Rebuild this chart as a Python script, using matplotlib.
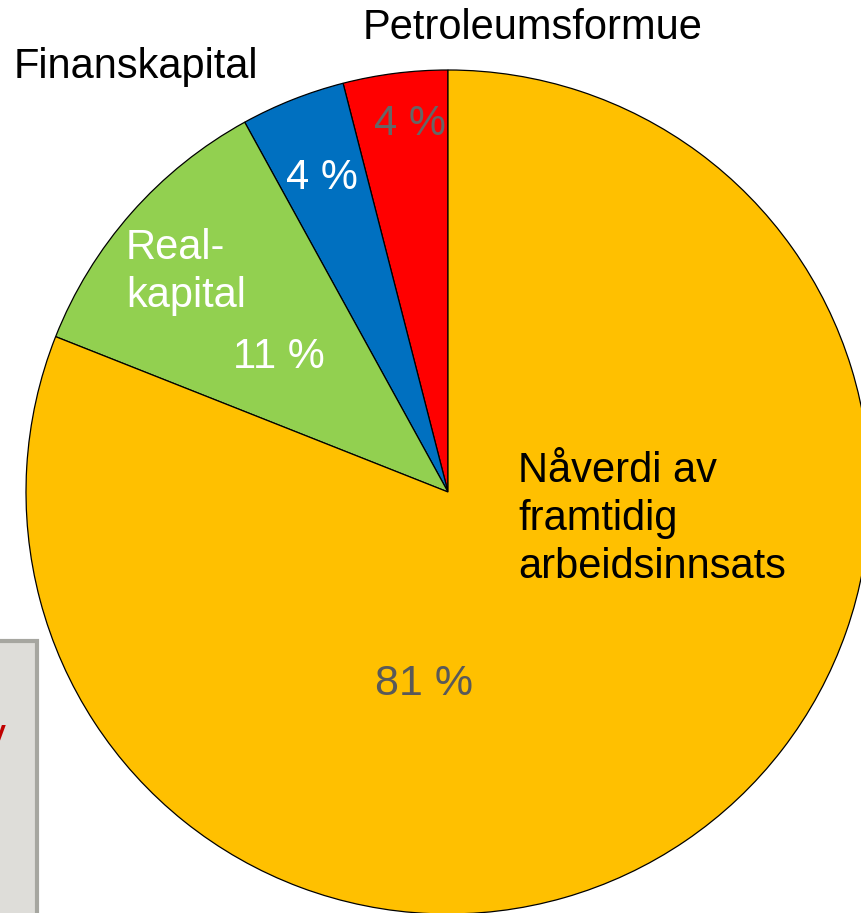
import matplotlib
matplotlib.use('Agg')
import matplotlib.pyplot as plt
from matplotlib.patches import Rectangle

# Andeler av nasjonalformuen (prosent)
kategorier = ["Petroleumsformue", "Finanskapital", "Realkapital", "Nåverdi av framtidig arbeidsinnsats"]
andeler = [4, 4, 11, 81]
farger = ["#FF0000", "#0070C0", "#92D050", "#FFC000"]
etiketter = ["4 %", "4 %", "11 %", "81 %"]

plt.rcParams['font.family'] = ['Liberation Sans', 'DejaVu Sans']

W, H = 861, 913
fig = plt.figure(figsize=(W / 100, H / 100), dpi=100)
ax = fig.add_axes([0, 0, 1, 1])

# Pai-diagram, sentrum og radius i piksler (y målt nedenfra)
cx, cy, r = 448, H - 492, 422
wedges, _ = ax.pie(andeler, colors=farger, startangle=90, counterclock=True,
                   center=(cx, cy), radius=r,
                   wedgeprops=dict(edgecolor="black", linewidth=0.9))
ax.set_xlim(0, W)
ax.set_ylim(0, H)
ax.set_aspect('equal')
ax.axis('off')

fs = 30
# prosentetiketter
ax.text(410, H - 124, etiketter[0], color="#666666", fontsize=fs, ha="center", va="center")
ax.text(322, H - 178, etiketter[1], color="white", fontsize=fs, ha="center", va="center")
ax.text(279, H - 357, etiketter[2], color="white", fontsize=fs, ha="center", va="center")
ax.text(424, H - 684, etiketter[3], color="#595959", fontsize=31, ha="center", va="center")

# kategorinavn
ax.text(533, H - 28, kategorier[0], color="black", fontsize=fs, ha="center", va="center")
ax.text(136, H - 67, kategorier[1], color="black", fontsize=fs, ha="center", va="center")
ax.text(126, H - 272, "Real-\nkapital", color="white", fontsize=fs, ha="left", va="center",
        linespacing=1.25)
ax.text(518, H - 519, "Nåverdi av\nframtidig\narbeidsinnsats", color="black", fontsize=fs,
        ha="left", va="center", linespacing=1.27)

# grå boks nede til venstre (delvis utenfor bildet)
ax.add_patch(Rectangle((-20, -20), 57, H - 641 + 20, facecolor="#DEDDD9",
                       edgecolor="#A6A6A0", linewidth=3, clip_on=False, zorder=5))
ax.text(6, H - 737, "y", color="#C00000", fontsize=fs, ha="right", va="center", zorder=6)

fig.savefig("out.png", dpi=100)
